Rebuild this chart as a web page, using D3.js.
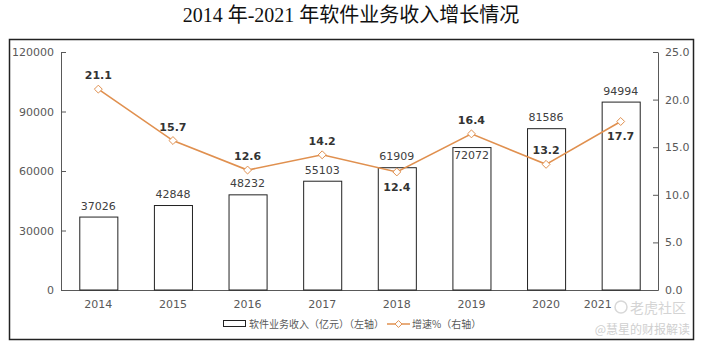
<!DOCTYPE html>
<html>
<head>
<meta charset="utf-8">
<script src="https://cdn.jsdelivr.net/npm/d3@7"></script>
<style>
  body { margin: 0; background: #fff; }
  svg { display: block; }
</style>
</head>
<body>
<div id="viz"></div>
<script>
// chart data
const years = ['2014', '2015', '2016', '2017', '2018', '2019', '2020', '2021'];
const revenue = [37026, 42848, 48232, 55103, 61909, 72072, 81586, 94994];
const growth = [21.1, 15.7, 12.6, 14.2, 12.4, 16.4, 13.2, 17.7];
const leftTicks = [0, 30000, 60000, 90000, 120000];
const rightTicks = [0, 5, 10, 15, 20, 25];
// where the growth label sits: 1 = above the point, -1 = below
const growthLabelSide = [1, 1, 1, 1, -1, 1, 1, -1];

const width = 703;
const height = 346;
const margin = { left: 61, right: 45, top: 52, bottom: 56 };

const svg = d3.select('#viz')
  .append('svg')
  .attr('width', width)
  .attr('height', height);

// title
svg.append('text')
  .attr('x', 351)
  .attr('y', 22)
  .attr('text-anchor', 'middle')
  .style('font-family', '"Liberation Serif", "Noto Sans CJK SC", serif')
  .style('font-size', '20px')
  .style('fill', '#111')
  .text('2014 年-2021 年软件业务收入增长情况');

// outer frame
svg.append('rect')
  .attr('x', 9.5)
  .attr('y', 39.5)
  .attr('width', 684)
  .attr('height', 300)
  .attr('fill', 'none')
  .attr('stroke', '#222')
  .attr('stroke-width', 1.5);

const x = d3.scaleBand()
  .domain(years)
  .range([margin.left, width - margin.right])
  .paddingInner(0.49)
  .paddingOuter(0.245);

const yL = d3.scaleLinear().domain([0, 120000]).range([height - margin.bottom, margin.top]);
const yR = d3.scaleLinear().domain([0, 25]).range([height - margin.bottom, margin.top]);

const tickFont = 'DejaVu Sans, sans-serif';

const leftAxis = d3.axisRight(yL).tickValues(leftTicks).tickSize(5).tickSizeOuter(0).tickFormat(d3.format('d'));
const gl = svg.append('g')
  .attr('transform', 'translate(' + margin.left + ',0)')
  .call(leftAxis);
gl.selectAll('text')
  .attr('x', -7)
  .attr('text-anchor', 'end');

const rightAxis = d3.axisLeft(yR).tickValues(rightTicks).tickSize(5).tickSizeOuter(0).tickFormat(d3.format('.1f'));
const gr = svg.append('g')
  .attr('transform', 'translate(' + (width - margin.right) + ',0)')
  .call(rightAxis);
gr.selectAll('text')
  .attr('x', 7)
  .attr('text-anchor', 'start');

const xAxis = d3.axisBottom(x).tickSize(0).tickSizeOuter(0);
const gx = svg.append('g')
  .attr('transform', 'translate(0,' + (height - margin.bottom) + ')')
  .call(xAxis);
gx.selectAll('text').attr('dy', '1.4em');
// the last year label sits left of its bar in the source picture
gx.selectAll('.tick text').filter(d => d === '2021').attr('x', -23);

[gl, gr, gx].forEach(g => {
  g.select('.domain').attr('stroke', '#595959').attr('stroke-width', 1);
  g.selectAll('line').attr('stroke', '#595959');
  g.selectAll('text')
    .style('font-family', tickFont)
    .style('font-size', '11px')
    .attr('fill', '#595959');
});

// bars
svg.selectAll('rect.bar')
  .data(revenue)
  .enter()
  .append('rect')
  .attr('class', 'bar')
  .attr('x', (d, i) => x(years[i]) + 0.5)
  .attr('y', d => yL(d) + 0.5)
  .attr('width', x.bandwidth())
  .attr('height', d => yL(0) - yL(d) - 0.5)
  .attr('fill', '#fff')
  .attr('stroke', '#222')
  .attr('stroke-width', 1);

svg.selectAll('text.barlabel')
  .data(revenue)
  .enter()
  .append('text')
  .attr('class', 'barlabel')
  .attr('x', (d, i) => x(years[i]) + x.bandwidth() / 2)
  .attr('y', (d, i) => i === 5 ? yL(d) + 12 : yL(d) - 7)
  .attr('text-anchor', 'middle')
  .style('font-family', tickFont)
  .style('font-size', '11px')
  .attr('fill', '#404040')
  .text(d => d);

// growth line
const lineColor = '#e0904f';
const line = d3.line()
  .x((d, i) => x(years[i]) + x.bandwidth() / 2)
  .y(d => yR(d));

svg.append('path')
  .datum(growth)
  .attr('d', line)
  .attr('fill', 'none')
  .attr('stroke', lineColor)
  .attr('stroke-width', 1.6);

svg.selectAll('path.marker')
  .data(growth)
  .enter()
  .append('path')
  .attr('class', 'marker')
  .attr('d', d3.symbol().type(d3.symbolDiamond2).size(40))
  .attr('transform', (d, i) => 'translate(' + (x(years[i]) + x.bandwidth() / 2) + ',' + yR(d) + ')')
  .attr('fill', '#fff')
  .attr('stroke', lineColor)
  .attr('stroke-width', 1);

svg.selectAll('text.linelabel')
  .data(growth)
  .enter()
  .append('text')
  .attr('class', 'linelabel')
  .attr('x', (d, i) => x(years[i]) + x.bandwidth() / 2)
  .attr('y', (d, i) => growthLabelSide[i] > 0 ? yR(d) - 10 : yR(d) + 19)
  .attr('text-anchor', 'middle')
  .style('font-family', tickFont)
  .style('font-size', '11px')
  .style('font-weight', 'bold')
  .attr('fill', '#333')
  .text(d => d.toFixed(1));

// legend
const legend = svg.append('g').attr('transform', 'translate(223,324)');
legend.append('rect')
  .attr('x', 0.5).attr('y', -3.5)
  .attr('width', 22).attr('height', 6)
  .attr('fill', '#fff').attr('stroke', '#222');
legend.append('text')
  .attr('x', 26).attr('y', 4)
  .style('font-family', '"Noto Sans CJK SC", sans-serif')
  .style('font-size', '10px')
  .attr('fill', '#595959')
  .text('软件业务收入（亿元）（左轴）');
legend.append('line')
  .attr('x1', 164).attr('x2', 187).attr('y1', 0).attr('y2', 0)
  .attr('stroke', lineColor).attr('stroke-width', 1.5);
legend.append('path')
  .attr('d', d3.symbol().type(d3.symbolDiamond2).size(30))
  .attr('transform', 'translate(175.5,0)')
  .attr('fill', '#fff').attr('stroke', lineColor);
legend.append('text')
  .attr('x', 189).attr('y', 4)
  .style('font-family', '"Noto Sans CJK SC", sans-serif')
  .style('font-size', '10px')
  .attr('fill', '#595959')
  .text('增速%（右轴）');

// watermark
svg.append('circle')
  .attr('cx', 621).attr('cy', 307).attr('r', 6)
  .attr('fill', 'none').attr('stroke', '#d8d8d8').attr('stroke-width', 1.5);
svg.append('text')
  .attr('x', 630).attr('y', 313)
  .style('font-family', '"Noto Sans CJK SC", sans-serif')
  .style('font-size', '14px')
  .attr('fill', '#d4d4d4')
  .text('老虎社区');
svg.append('text')
  .attr('x', 690).attr('y', 334)
  .attr('text-anchor', 'end')
  .style('font-family', '"Noto Sans CJK SC", sans-serif')
  .style('font-size', '12px')
  .attr('fill', '#cfcfcf')
  .text('@慧星的财报解读');
</script>
</body>
</html>
